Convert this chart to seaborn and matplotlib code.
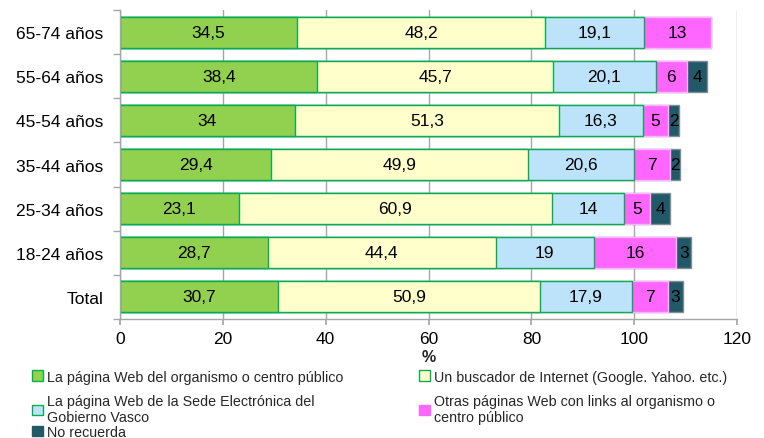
import numpy as np
import pandas as pd
import matplotlib
matplotlib.use("Agg")
import matplotlib.pyplot as plt
from matplotlib.patches import Patch
import seaborn as sns

# data (top to bottom)
groups = ["65-74 años", "55-64 años", "45-54 años", "35-44 años", "25-34 años", "18-24 años", "Total"]
web_organismo = [34.5, 38.4, 34, 29.4, 23.1, 28.7, 30.7]
buscador = [48.2, 45.7, 51.3, 49.9, 60.9, 44.4, 50.9]
sede_electronica = [19.1, 20.1, 16.3, 20.6, 14, 19, 17.9]
otras_paginas = [13, 6, 5, 7, 5, 16, 7]
no_recuerda = [0, 4, 2, 2, 4, 3, 3]

series_names = [
    "La página Web del organismo o centro público",
    "Un buscador de Internet (Google. Yahoo. etc.)",
    "La página Web de la Sede Electrónica del\nGobierno Vasco",
    "Otras páginas Web con links al organismo o\ncentro público",
    "No recuerda",
]
series_values = [web_organismo, buscador, sede_electronica, otras_paginas, no_recuerda]
face_colors = ["#92D050", "#FFFFCC", "#BDE3FB", "#FF66FF", "#215968"]
edge_colors = ["#00B050", "#00B050", "#00B050", "#FFB3FF", "#7F8F95"]

sns.set_theme(style="white")
plt.rcParams["font.family"] = ["Liberation Sans", "DejaVu Sans"]

df = pd.DataFrame(dict(zip(series_names, series_values)), index=groups)
cum = df.cumsum(axis=1)

fig = plt.figure(figsize=(7.64, 4.39), dpi=100)
ax = fig.add_axes([0.157, 0.272, 0.808, 0.702])

# stacked bars: draw cumulative totals from the last series back to the first
for i in range(len(series_names) - 1, -1, -1):
    d = pd.DataFrame({"grupo": groups, "valor": cum.iloc[:, i].values})
    sns.barplot(data=d, x="valor", y="grupo", orient="h", ax=ax,
                color=face_colors[i], edgecolor=edge_colors[i], linewidth=1.0,
                width=0.72, saturation=1, errorbar=None, zorder=2)

# value labels centred in each segment
for i, name in enumerate(series_names):
    for j, g in enumerate(groups):
        v = df.loc[g, name]
        if v <= 0:
            continue
        left = cum.iloc[j, i] - v
        txt = f"{v:g}".replace(".", ",")
        ax.text(left + v / 2, j, txt, ha="center", va="center", fontsize=12.5,
                color="black", zorder=5)

ax.set_xlim(0, 120)
ax.set_ylim(len(groups) - 0.5, -0.5)
ax.set_xticks(np.arange(0, 121, 20))
ax.xaxis.grid(True, color="#A6A6A6", linewidth=1.0, zorder=0)
ax.set_axisbelow(True)
ax.set_xlabel("%", fontsize=11.5, fontweight="bold", labelpad=2)
ax.set_ylabel("")

for s in ["top", "right"]:
    ax.spines[s].set_visible(False)
for s in ["left", "bottom"]:
    ax.spines[s].set_color("#A6A6A6")
    ax.spines[s].set_linewidth(1.0)

ax.tick_params(axis="x", labelsize=12.5, colors="black", length=4, color="#A6A6A6",
               direction="out", pad=5, bottom=True)
ax.tick_params(axis="y", labelsize=12.5, colors="black", length=0, pad=12)
# minor ticks at category boundaries on the left axis
ax.set_yticks(np.arange(-0.5, len(groups), 1), minor=True)
ax.tick_params(axis="y", which="minor", length=5, color="#A6A6A6", left=True)

handles = [Patch(facecolor=face_colors[i], edgecolor=edge_colors[i] if i < 3 else face_colors[i],
                 linewidth=1.0) for i in range(5)]
leg_kw = dict(loc="upper left", frameon=False, fontsize=10.3, handlelength=0.75,
              handleheight=0.75, handletextpad=0.3, labelspacing=0.75, borderaxespad=0,
              borderpad=0)
fig.legend([handles[0], handles[2]], [series_names[0], series_names[2]],
           bbox_to_anchor=(0.042, 0.156), **leg_kw)
fig.legend([handles[1], handles[3]], [series_names[1], series_names[3]],
           bbox_to_anchor=(0.549, 0.156), **leg_kw)
fig.legend([handles[4]], [series_names[4]],
           bbox_to_anchor=(0.042, 0.030), **leg_kw)

fig.savefig("out.png", dpi=100)
